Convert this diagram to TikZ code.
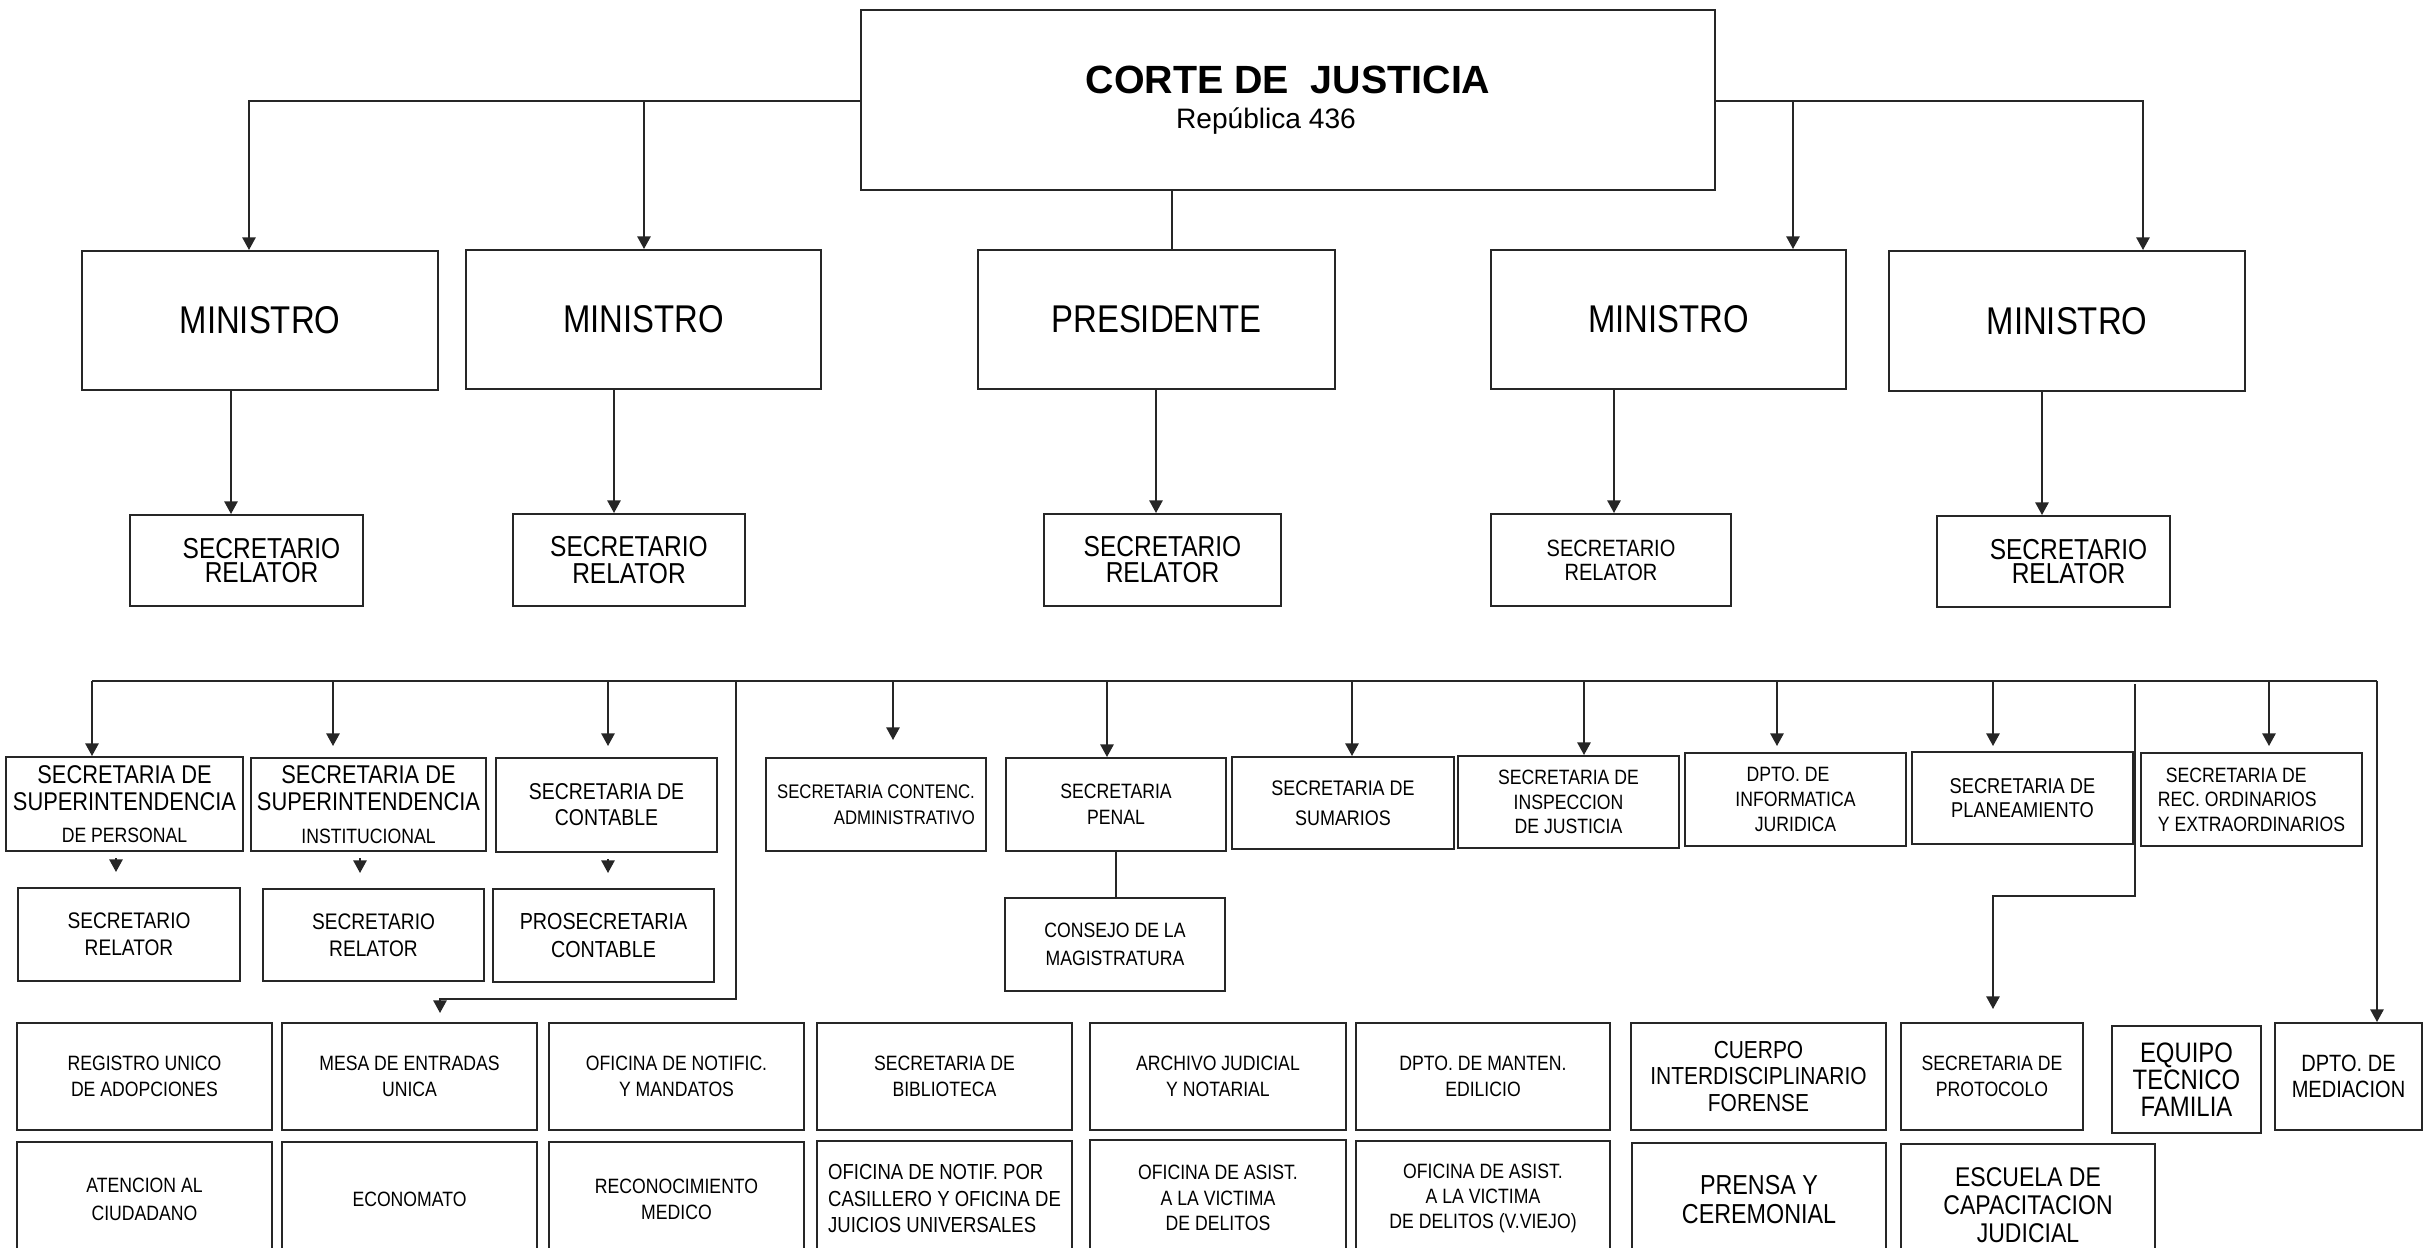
\documentclass[tikz,border=0pt]{standalone}
\usepackage{fontspec}
\setmainfont[FakeStretch=0.85]{Liberation Sans}
\newfontfamily\anchafont{Liberation Sans}
\usetikzlibrary{arrows.meta, calc}

\tikzset{
	caja/.style={draw=black!85, line width=0.55pt, inner sep=0pt, align=center, font=\fontsize{5.9}{7.2}\selectfont},
	linea/.style={draw=black!85, line width=0.5pt},
	flecha/.style={linea, -{Triangle[length=3.6pt,width=3.8pt]}},
	grande/.style={font=\fontsize{11}{13}\selectfont},
}

%% box from its corners (pixels of the sheet): name, x1, y1, x2, y2, text
\newcommand{\caja}[7][]{%
	\pgfmathsetmacro{\cajaw}{(#5-#3)/100}%
	\pgfmathsetmacro{\cajah}{(#6-#4)/100}%
	\node[caja, minimum width=\cajaw cm, minimum height=\cajah cm, #1] (#2) at ({(#3+#5)/2},{(#4+#6)/2}) {#7};}

\begin{document}
\begin{tikzpicture}[x=0.01cm, y=-0.01cm]
	\useasboundingbox (0,0) rectangle (2432,1248);
	\clip (0,0) rectangle (2432,1248);
	\pgfmathsetmacro{\busy}{681}

	%% corte
	\caja[font=\anchafont\fontsize{11.2}{10}\selectfont]{corte}{861}{10}{1715}{190}{{\bfseries CORTE DE~ JUSTICIA}\\{\fontsize{8}{10}\selectfont República 436\hspace*{0.44cm}}}

	%% ministros
	\caja[grande]{minA}{82}{251}{438}{390}{MINISTRO}
	\caja[grande]{minB}{466}{250}{821}{389}{MINISTRO}
	\caja[grande]{pres}{978}{250}{1335}{389}{PRESIDENTE}
	\caja[grande]{minC}{1491}{250}{1846}{389}{MINISTRO}
	\caja[grande]{minD}{1889}{251}{2245}{391}{MINISTRO}

	%% secretarios relatores
	\caja[font=\fontsize{8.2}{5.7}\selectfont]{secA}{130}{515}{363}{606}{\hspace*{0.3cm}SECRETARIO\\\hspace*{0.3cm}RELATOR}
	\caja[font=\fontsize{8.2}{7.7}\selectfont]{secB}{513}{514}{745}{606}{SECRETARIO\\RELATOR}
	\caja[font=\fontsize{8.2}{7.4}\selectfont]{secC}{1044}{514}{1281}{606}{SECRETARIO\\RELATOR}
	\caja[font=\fontsize{6.7}{6.8}\selectfont]{secD}{1491}{514}{1731}{606}{SECRETARIO\\RELATOR}
	\caja[font=\fontsize{8.2}{4.8}\selectfont]{secE}{1937}{516}{2170}{607}{\hspace*{0.3cm}SECRETARIO\\\hspace*{0.3cm}RELATOR}

	\coordinate (c1) at (249,101);
	\coordinate (c1b) at (644,101);
	\coordinate (c2) at (2143,101);
	\coordinate (c2b) at (1793,101);
	\coordinate (cp) at (1172,190);
	\draw[flecha] (corte.west |- c1) -- (c1) -- (c1 |- minA.north);
	\draw[flecha] (c1b) -- (c1b |- minB.north);
	\draw[flecha] (corte.east |- c2) -- (c2) -- (c2 |- minD.north);
	\draw[flecha] (c2b) -- (c2b |- minC.north);
	\draw[linea] (cp) -- (cp |- pres.north);

	\coordinate (s1) at (231,0);
	\coordinate (s2) at (614,0);
	\coordinate (s3) at (1156,0);
	\coordinate (s4) at (1614,0);
	\coordinate (s5) at (2042,0);
	\draw[flecha] (minA.south -| s1) -- (secA.north -| s1);
	\draw[flecha] (minB.south -| s2) -- (secB.north -| s2);
	\draw[flecha] (pres.south -| s3) -- (secC.north -| s3);
	\draw[flecha] (minC.south -| s4) -- (secD.north -| s4);
	\draw[flecha] (minD.south -| s5) -- (secE.north -| s5);

	%% secretarias
	\caja[font=\fontsize{7.3}{7.7}\selectfont]{supA}{6}{757}{243}{851}{SECRETARIA DE\\SUPERINTENDENCIA\\[1.5pt]{\fontsize{5.9}{7}\selectfont DE PERSONAL}}
	\caja[font=\fontsize{7.3}{7.7}\selectfont]{supB}{251}{758}{486}{851}{SECRETARIA DE\\SUPERINTENDENCIA\\[1.5pt]{\fontsize{5.9}{7}\selectfont INSTITUCIONAL}}
	\caja[font=\fontsize{6.5}{7.4}\selectfont]{cont}{496}{758}{717}{852}{SECRETARIA DE\\CONTABLE}
	\caja[font=\fontsize{6.4}{7.7}\selectfont]{relA}{18}{888}{240}{981}{SECRETARIO\\RELATOR}
	\caja[font=\fontsize{6.4}{7.7}\selectfont]{relB}{263}{889}{484}{981}{SECRETARIO\\RELATOR}
	\caja[font=\fontsize{6.6}{7.7}\selectfont]{prosec}{493}{889}{714}{982}{PROSECRETARIA\\CONTABLE}
	\caja[font=\fontsize{5.6}{7.4}\selectfont, align=right]{contenc}{766}{758}{986}{851}{SECRETARIA CONTENC.\\ADMINISTRATIVO}
	\caja[font=\fontsize{5.9}{7.4}\selectfont]{penal}{1006}{758}{1226}{851}{SECRETARIA\\PENAL}
	\caja[font=\fontsize{5.9}{7.9}\selectfont]{consejo}{1005}{898}{1225}{991}{CONSEJO DE LA\\MAGISTRATURA}
	\caja[font=\fontsize{6}{8.4}\selectfont]{sumarios}{1232}{757}{1454}{849}{SECRETARIA DE\\SUMARIOS}
	\caja[font=\fontsize{5.9}{7}\selectfont]{inspec}{1458}{756}{1679}{848}{SECRETARIA DE\\INSPECCION\\DE JUSTICIA}
	\caja[font=\fontsize{5.9}{7.1}\selectfont]{informat}{1685}{753}{1906}{846}{DPTO. DE\hspace*{0.15cm}\\INFORMATICA\\JURIDICA}
	\caja[font=\fontsize{6.1}{6.9}\selectfont]{planea}{1912}{752}{2133}{844}{SECRETARIA DE\\PLANEAMIENTO}
	\caja[font=\fontsize{5.9}{7}\selectfont, align=left]{record}{2141}{753}{2362}{846}{\hspace*{0.08cm}SECRETARIA DE\\REC. ORDINARIOS\\Y EXTRAORDINARIOS}

	%% oficinas
	\caja{registro}{17}{1023}{272}{1130}{REGISTRO UNICO\\DE ADOPCIONES}
	\caja{mesa}{282}{1023}{537}{1130}{MESA DE ENTRADAS\\UNICA}
	\caja{ofnotif}{549}{1023}{804}{1130}{OFICINA DE NOTIFIC.\\Y MANDATOS}
	\caja{biblio}{817}{1023}{1072}{1130}{SECRETARIA DE\\BIBLIOTECA}
	\caja{archivo}{1090}{1023}{1346}{1130}{ARCHIVO JUDICIAL\\Y NOTARIAL}
	\caja{manten}{1356}{1023}{1610}{1130}{DPTO. DE MANTEN.\\EDILICIO}
	\caja[font=\fontsize{7}{7.5}\selectfont]{cuerpo}{1631}{1023}{1886}{1130}{CUERPO\\INTERDISCIPLINARIO\\FORENSE}
	\caja[font=\fontsize{5.9}{7.5}\selectfont]{protocolo}{1901}{1023}{2083}{1130}{SECRETARIA DE\\PROTOCOLO}
	\caja[font=\fontsize{8}{7.6}\selectfont]{equipo}{2112}{1026}{2261}{1133}{EQUIPO\\TECNICO\\FAMILIA}
	\caja[font=\fontsize{6.7}{7.2}\selectfont]{mediacion}{2275}{1023}{2422}{1130}{DPTO. DE\\MEDIACION}

	\caja[font=\fontsize{5.9}{7.9}\selectfont]{atencion}{17}{1142}{272}{1256}{ATENCION AL\\CIUDADANO}
	\caja{economato}{282}{1142}{537}{1256}{ECONOMATO}
	\caja[font=\fontsize{5.9}{7.4}\selectfont]{reconoc}{549}{1142}{804}{1256}{RECONOCIMIENTO\\MEDICO}
	\caja[font=\fontsize{6.2}{7.6}\selectfont, align=left]{casillero}{817}{1141}{1072}{1256}{OFICINA DE NOTIF. POR\\CASILLERO Y OFICINA DE\\JUICIOS UNIVERSALES}
	\caja{asistA}{1090}{1140}{1346}{1256}{OFICINA DE ASIST.\\A LA VICTIMA\\DE DELITOS}
	\caja{asistB}{1356}{1141}{1610}{1256}{OFICINA DE ASIST.\\A LA VICTIMA\\DE DELITOS (V.VIEJO)}
	\caja[font=\fontsize{7.8}{8.4}\selectfont]{prensa}{1632}{1143}{1886}{1256}{PRENSA Y\\CEREMONIAL}
	\caja[font=\fontsize{7.7}{7.9}\selectfont]{escuela}{1901}{1144}{2155}{1266}{ESCUELA DE\\CAPACITACION\\JUDICIAL}

	%% bus
	\coordinate (bl) at (92,\busy);
	\coordinate (br) at (2377,\busy);
	\draw[linea, line width=0.65pt] (bl) -- (br);

	\coordinate (b2) at (333,\busy);
	\coordinate (b3) at (608,\busy);
	\coordinate (b4) at (893,\busy);
	\coordinate (b5) at (1107,\busy);
	\coordinate (b6) at (1352,\busy);
	\coordinate (b7) at (1584,\busy);
	\coordinate (b8) at (1777,\busy);
	\coordinate (b9) at (1993,\busy);
	\coordinate (b10) at (2269,\busy);
	\draw[flecha] (bl) -- (bl |- supA.north);
	\draw[flecha, shorten >=0.11cm] (b2) -- (b2 |- supB.north);
	\draw[flecha, shorten >=0.11cm] (b3) -- (b3 |- cont.north);
	\draw[flecha, shorten >=0.17cm] (b4) -- (b4 |- contenc.north);
	\draw[flecha] (b5) -- (b5 |- penal.north);
	\draw[flecha] (b6) -- (b6 |- sumarios.north);
	\draw[flecha] (b7) -- (b7 |- inspec.north);
	\draw[flecha, shorten >=0.06cm] (b8) -- (b8 |- informat.north);
	\draw[flecha, shorten >=0.05cm] (b9) -- (b9 |- planea.north);
	\draw[flecha, shorten >=0.06cm] (b10) -- (b10 |- record.north);
	\draw[flecha] (br) -- (br |- mediacion.north);

	\coordinate (r1) at (116,0);
	\coordinate (r2) at (360,0);
	\coordinate (r3) at (608,0);
	\draw[flecha, shorten <=0.06cm, shorten >=0.15cm] (supA.south -| r1) -- (relA.north -| r1);
	\draw[flecha, shorten <=0.06cm, shorten >=0.15cm] (supB.south -| r2) -- (relB.north -| r2);
	\draw[flecha, shorten <=0.06cm, shorten >=0.15cm] (cont.south -| r3) -- (prosec.north -| r3);
	\draw[linea] (penal.south) -- (penal.south |- consejo.north);

	\coordinate (bm) at (736,\busy);
	\coordinate (m1) at (736,999);
	\coordinate (m2) at (440,999);
	\draw[flecha, shorten >=0.09cm] (bm) -- (m1) -- (m2) -- (m2 |- mesa.north);

	\coordinate (p0) at (2135,684);
	\coordinate (p1) at (2135,896);
	\coordinate (p2) at (1993,896);
	\draw[flecha, shorten >=0.13cm] (p0) -- (p1) -- (p2) -- (p2 |- protocolo.north);
\end{tikzpicture}
\end{document}
